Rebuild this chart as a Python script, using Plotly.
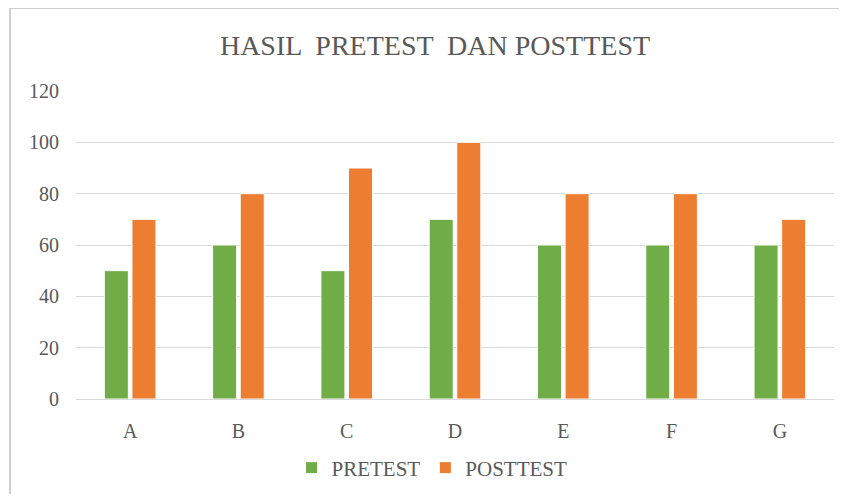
import plotly.graph_objects as go

categories = ["A", "B", "C", "D", "E", "F", "G"]
pretest = [50, 60, 50, 70, 60, 60, 60]
posttest = [70, 80, 90, 100, 80, 80, 70]
y_ticks = [0, 20, 40, 60, 80, 100, 120]

FONT = "Liberation Serif, Times New Roman, serif"
TXT = "#595959"

fig = go.Figure()
fig.add_trace(go.Bar(name="PRETEST", x=categories, y=pretest,
                     marker=dict(color="#70AD47", line=dict(color="white", width=1))))
fig.add_trace(go.Bar(name="POSTTEST", x=categories, y=posttest,
                     marker=dict(color="#ED7D31", line=dict(color="white", width=1))))

# page body has an 8px margin, so the figure origin sits at (8, 8)
OX, OY = 8, 8
W, H = 847 - 2 * OX, 502 - 2 * OY
l, r, t, b = 76 - OX, W - (834 - OX), 91 - OY, H - (399 - OY)
pw = W - l - r
ph = H - t - b

fig.update_layout(
    width=W, height=H,
    margin=dict(l=l, r=r, t=t, b=b, pad=0),
    paper_bgcolor="white", plot_bgcolor="white",
    barmode="group", bargap=0.49, bargroupgap=0.13,
    title=dict(text="HASIL  PRETEST  DAN POSTTEST", x=(435 - OX) / W, xanchor="center",
               y=1 - (45 - OY) / H, yanchor="middle",
               font=dict(family=FONT, size=28, color=TXT)),
    font=dict(family=FONT, size=20, color=TXT),
    legend=dict(orientation="h", x=(432 - 76) / pw, xanchor="center",
                y=(399 - 468) / ph, yanchor="middle",
                font=dict(family=FONT, size=21, color=TXT),
                itemwidth=30, traceorder="normal"),
    showlegend=True,
    xaxis=dict(showgrid=False, showline=True, linecolor="#d9d9d9", linewidth=1,
               ticks="", tickfont=dict(family=FONT, size=20, color=TXT),
               ticklabelstandoff=14),
    yaxis=dict(range=[0, 120], tickvals=y_ticks, showgrid=True, gridcolor="#d9d9d9",
               gridwidth=1, zeroline=False, showline=False, ticks="",
               tickfont=dict(family=FONT, size=20, color=TXT),
               ticklabelstandoff=16),
    shapes=[
        dict(type="line", xref="paper", yref="paper",
             x0=(10 - 76) / pw, x1=(10 - 76) / pw, y0=-b / ph, y1=1 + (91 - 8) / ph,
             line=dict(color="#d0d0d0", width=2)),
        dict(type="line", xref="paper", yref="paper",
             x0=(10 - 76) / pw, x1=1 + r / pw, y0=1 + (91 - 8) / ph, y1=1 + (91 - 8) / ph,
             line=dict(color="#d0d0d0", width=2)),
    ],
)

fig.write_html("out.html")
